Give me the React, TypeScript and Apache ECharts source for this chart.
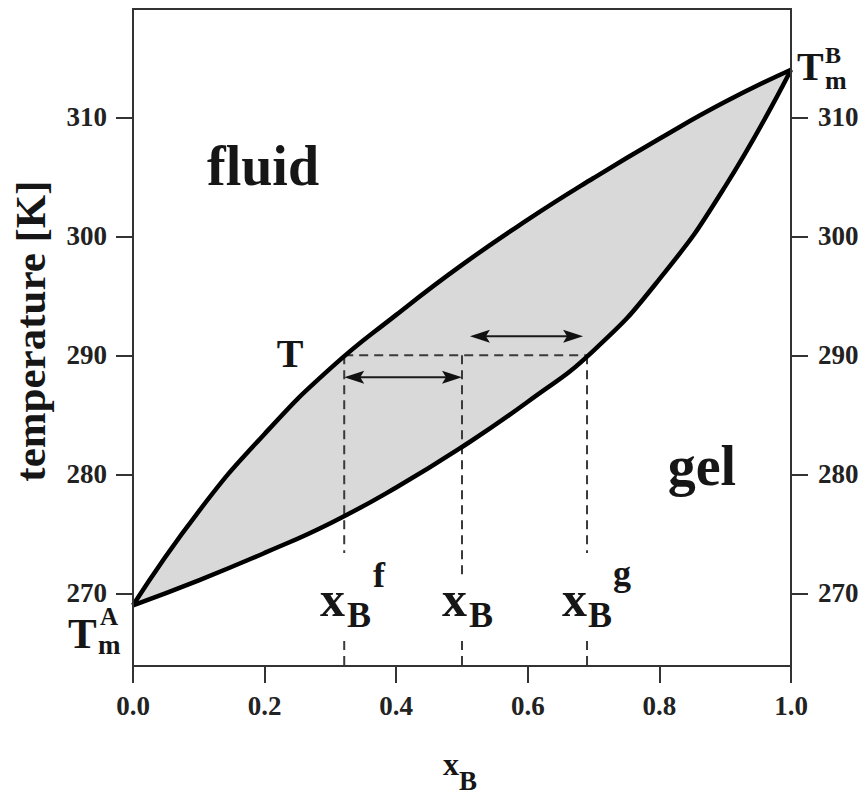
import React, { useEffect, useRef } from 'react';
import * as echarts from 'echarts';

// Compositions x_B at which the boundaries were read
const compX = [0, 0.1, 0.2, 0.3, 0.4, 0.5, 0.6, 0.7, 0.8, 0.9, 1.0];
// Fluid boundary (upper curve), temperature [K]
const fluidT = [269, 276.9, 283.4, 288.9, 293.4, 297.6, 301.4, 304.9, 308.2, 311.3, 314];
// Gel boundary (lower curve), temperature [K]
const gelT = [269, 271.1, 273.4, 275.9, 278.9, 282.3, 286.1, 290.4, 296.4, 304.2, 314];

// Axes
const xTickValues = [0, 0.2, 0.4, 0.6, 0.8, 1.0];
const tTickValues = [270, 280, 290, 300, 310];
const tMin = 263.9;
const tMax = 319.1;

// Tie line construction at T = 290 K
const tieT = 290;
const xBf = 0.321;
const xBmid = 0.5;
const xBg = 0.69;
const dashedSegments: number[][][] = [
  [[xBf, tieT], [xBg, tieT]],
  [[xBf, tieT], [xBf, 273.4]],
  [[xBf, 266.0], [xBf, tMin]],
  [[xBmid, tieT], [xBmid, 271.5]],
  [[xBmid, 266.0], [xBmid, tMin]],
  [[xBg, tieT], [xBg, 273.4]],
  [[xBg, 266.0], [xBg, tMin]],
];
// double arrows: [xStart, xEnd, T]
const arrowLines = [
  [xBf, xBmid, 288.15],
  [0.512, 0.684, 291.6],
];

// Annotation anchors (data coords) and their texts
const annotationAnchors = [
  [0.1976, 304.29], // fluid
  [0.8647, 279.08], // gel
  [0.2386, 288.99], // T
  [0.2842, 268.07], // x_B^f
  [0.4696, 268.07], // x_B
  [0.652, 268.07],  // x_B^g
  [0, 269],         // T_m^A
  [1, 314],         // T_m^B
];
const annotationTexts = [
  ['fluid'],
  ['gel'],
  ['T'],
  ['x', 'B', 'f'],
  ['x', 'B'],
  ['x', 'B', 'g'],
  ['T', 'A', 'm'],
  ['T', 'B', 'm'],
];

// layout of each text piece: [dx, dyBaseline, fontSize, align]
const annotationLayout: [number, number, number, string][][] = [
  [[0, 0, 56, 'center']],
  [[0, 0, 56, 'center']],
  [[0, 0, 40, 'center']],
  [[0, 0, 50, 'left'], [27, 11, 36, 'left'], [53, -29, 36, 'left']],
  [[0, 0, 50, 'left'], [27, 11, 36, 'left']],
  [[0, 0, 50, 'left'], [26, 11, 36, 'left'], [51, -31, 36, 'left']],
  [[-65, 43, 43, 'left'], [-33, 20, 25, 'left'], [-35, 49, 27, 'left']],
  [[6, 10, 40, 'left'], [34, -7, 24, 'left'], [34, 20, 26, 'left']],
];

const FONT = '"Liberation Serif", "Times New Roman", serif';
const AXIS_COLOR = '#333';
const TEXT_COLOR = '#161616';

export default function App() {
  const ref = useRef<HTMLDivElement>(null);

  useEffect(() => {
    document.body.style.margin = '0';
    if (!ref.current) return;
    const chart = echarts.init(ref.current, null, { renderer: 'svg' });

    const fluidData = compX.map((x, i) => [x, fluidT[i]]);
    const gelData = compX.map((x, i) => [x, gelT[i]]);

    const axisLabelStyle = {
      fontFamily: FONT,
      fontWeight: 'bold' as const,
      fontSize: 27,
      color: '#222',
    };

    const dashedSeries = dashedSegments.map((seg) => ({
      type: 'line',
      data: seg,
      showSymbol: false,
      symbol: 'none',
      silent: true,
      z: 4,
      lineStyle: { color: '#3a3a3a', width: 2, type: [9, 6] },
    }));

    const SMOOTH = 0.5;

    const option: any = {
      animation: false,
      backgroundColor: '#fff',
      grid: { left: 133, right: 71, top: 9, bottom: 130, containLabel: false },
      xAxis: [
        {
          type: 'value',
          position: 'bottom',
          min: 0,
          max: 1,
          interval: 0.2,
          z: 10,
          axisLine: { show: true, onZero: false, lineStyle: { color: AXIS_COLOR, width: 2 } },
          axisTick: { show: true, inside: false, length: 17, customValues: xTickValues, lineStyle: { color: AXIS_COLOR, width: 2 } },
          axisLabel: { ...axisLabelStyle, margin: 26, customValues: xTickValues, formatter: (v: number) => v.toFixed(1) },
          splitLine: { show: false },
        },
        {
          type: 'value',
          position: 'top',
          min: 0,
          max: 1,
          z: 10,
          axisLine: { show: true, onZero: false, lineStyle: { color: AXIS_COLOR, width: 2 } },
          axisTick: { show: false },
          axisLabel: { show: false },
          splitLine: { show: false },
        },
      ],
      yAxis: [
        {
          type: 'value',
          position: 'left',
          min: tMin,
          max: tMax,
          z: 10,
          axisLine: { show: true, onZero: false, lineStyle: { color: AXIS_COLOR, width: 2 } },
          axisTick: {
            show: true,
            inside: false,
            length: 17,
            customValues: tTickValues,
            lineStyle: { color: AXIS_COLOR, width: 2 },
          },
          axisLabel: { ...axisLabelStyle, margin: 26, customValues: tTickValues },
          splitLine: { show: false },
        },
        {
          type: 'value',
          position: 'right',
          min: tMin,
          max: tMax,
          z: 10,
          axisLine: { show: true, onZero: false, lineStyle: { color: AXIS_COLOR, width: 2 } },
          axisTick: {
            show: true,
            inside: false,
            length: 17,
            customValues: tTickValues,
            lineStyle: { color: AXIS_COLOR, width: 2 },
          },
          axisLabel: { ...axisLabelStyle, margin: 27, customValues: tTickValues },
          splitLine: { show: false },
        },
      ],
      series: [
        {
          name: 'fluid boundary',
          type: 'line',
          data: fluidData,
          smooth: SMOOTH,
          showSymbol: false,
          symbol: 'none',
          z: 1,
          lineStyle: { width: 0 },
          areaStyle: { color: '#d9d9d9', opacity: 1, origin: 'start' },
        },
        {
          name: 'gel boundary fill',
          type: 'line',
          data: gelData,
          smooth: SMOOTH,
          showSymbol: false,
          symbol: 'none',
          z: 2,
          lineStyle: { width: 0 },
          areaStyle: { color: '#ffffff', opacity: 1, origin: 'start' },
        },
        ...dashedSeries,
        {
          name: 'fluid line',
          type: 'line',
          data: fluidData,
          smooth: SMOOTH,
          showSymbol: false,
          symbol: 'none',
          z: 6,
          lineStyle: { color: '#000', width: 4.5 },
        },
        {
          name: 'gel line',
          type: 'line',
          data: gelData,
          smooth: SMOOTH,
          showSymbol: false,
          symbol: 'none',
          z: 6,
          lineStyle: { color: '#000', width: 4.5 },
        },
        {
          name: 'arrows',
          type: 'custom',
          z: 7,
          silent: true,
          data: arrowLines,
          encode: { x: [0, 1], y: 2 },
          renderItem: (params: any, api: any) => {
            const p1 = api.coord([api.value(0), api.value(2)]);
            const p2 = api.coord([api.value(1), api.value(2)]);
            const L = 20;
            const W = 6.5;
            return {
              type: 'group',
              children: [
                {
                  type: 'line',
                  shape: { x1: p1[0] + 8, y1: p1[1], x2: p2[0] - 8, y2: p2[1] },
                  style: { stroke: '#1a1a1a', lineWidth: 2 },
                },
                {
                  type: 'polygon',
                  shape: { points: [[p1[0], p1[1]], [p1[0] + L, p1[1] - W], [p1[0] + L - 4, p1[1]], [p1[0] + L, p1[1] + W]] },
                  style: { fill: '#111' },
                },
                {
                  type: 'polygon',
                  shape: { points: [[p2[0], p2[1]], [p2[0] - L, p2[1] - W], [p2[0] - L + 4, p2[1]], [p2[0] - L, p2[1] + W]] },
                  style: { fill: '#111' },
                },
              ],
            };
          },
        },
        {
          name: 'annotations',
          type: 'custom',
          z: 8,
          silent: true,
          clip: false,
          data: annotationAnchors,
          encode: { x: 0, y: 1 },
          renderItem: (params: any, api: any) => {
            const i = params.dataIndex;
            const p = api.coord([api.value(0), api.value(1)]);
            const texts = annotationTexts[i];
            const layout = annotationLayout[i];
            return {
              type: 'group',
              children: texts.map((t, k) => {
                const [dx, dy, size, align] = layout[k];
                return {
                  type: 'text',
                  x: p[0] + dx,
                  y: p[1] + dy - 0.34 * size,
                  style: {
                    text: t,
                    font: `bold ${size}px ${FONT}`,
                    fill: TEXT_COLOR,
                    textAlign: align,
                    textVerticalAlign: 'middle',
                  },
                };
              }),
            };
          },
        },
      ],
      graphic: [
        {
          type: 'text',
          x: 30,
          y: 331,
          rotation: Math.PI / 2,
          style: {
            text: 'temperature [K]',
            font: `bold 43px ${FONT}`,
            fill: TEXT_COLOR,
            textAlign: 'center',
            textVerticalAlign: 'middle',
          },
        },
        {
          type: 'text',
          x: 443,
          y: 775 - 0.34 * 32,
          style: {
            text: 'x',
            font: `bold 32px ${FONT}`,
            fill: TEXT_COLOR,
            textAlign: 'left',
            textVerticalAlign: 'middle',
          },
        },
        {
          type: 'text',
          x: 459,
          y: 790 - 0.34 * 27,
          style: {
            text: 'B',
            font: `bold 27px ${FONT}`,
            fill: TEXT_COLOR,
            textAlign: 'left',
            textVerticalAlign: 'middle',
          },
        },
      ],
    };

    chart.setOption(option);
    return () => chart.dispose();
  }, []);

  return (
    <div
      ref={ref}
      style={{ position: 'absolute', left: 0, top: 0, width: 862, height: 796 }}
    />
  );
}
